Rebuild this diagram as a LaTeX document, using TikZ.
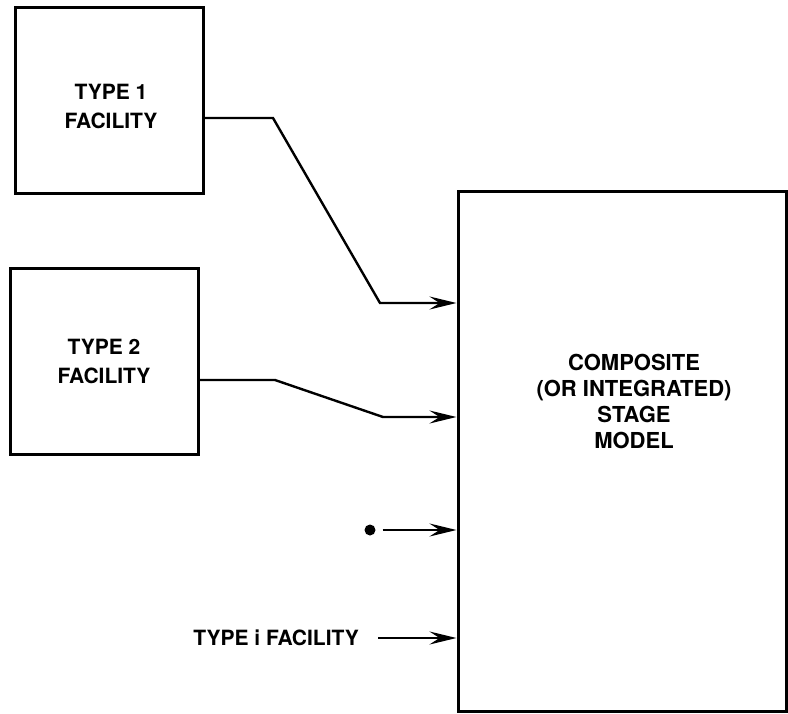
\documentclass[tikz,border=0pt]{standalone}
\usepackage{fontspec}
\setmainfont{TeX Gyre Heros}
\usetikzlibrary{arrows.meta, positioning}

\begin{document}
\begin{tikzpicture}[x=1pt, y=-1pt,
    facility/.style={rectangle, draw, line width=3pt, minimum width=188pt, minimum height=186pt, align=center, font=\fontsize{21}{29}\selectfont\bfseries},
    model/.style={rectangle, draw, line width=3pt, minimum width=328pt, minimum height=520pt},
    modeltext/.style={align=center, font=\fontsize{22}{26}\selectfont\bfseries},
    feed/.style={line width=2.4pt, -{Stealth[length=27pt, width=13pt, inset=10pt]}},
    dot/.style={circle, fill, inner sep=0pt, minimum size=11pt}
]
\useasboundingbox (0,0) rectangle (788,713);
\node[facility] (fac1) at (109,100) {};
\node[font=\fontsize{21}{29}\selectfont\bfseries, align=center] (fac1lbl) at (111,106) {TYPE 1\\FACILITY};
\node[facility] (fac2) at (104,361) {TYPE 2\\FACILITY};
\node[model] (comp) at (622,451) {};
\node[modeltext] (complbl) at (634,401) {COMPOSITE\\(OR INTEGRATED)\\STAGE\\MODEL};
\node[dot] (dotmark) at (370,530) {};
\node[anchor=east, font=\fontsize{21}{24}\selectfont\bfseries, inner sep=0pt] (typei) at (359,638) {TYPE i FACILITY};
\draw[feed] (fac1.east |- 0,118) -- (273,118) -- (380,303) -- (comp.west |- 0,303);
\draw[feed] (fac2.east |- 0,380) -- (275,380) -- (383,417) -- (comp.west |- 0,417);
\draw[feed, shorten <=7pt] (dotmark) -- (comp.west |- dotmark);
\draw[feed, shorten <=19pt] (typei.east) -- (comp.west |- typei.east);
\end{tikzpicture}
\end{document}
